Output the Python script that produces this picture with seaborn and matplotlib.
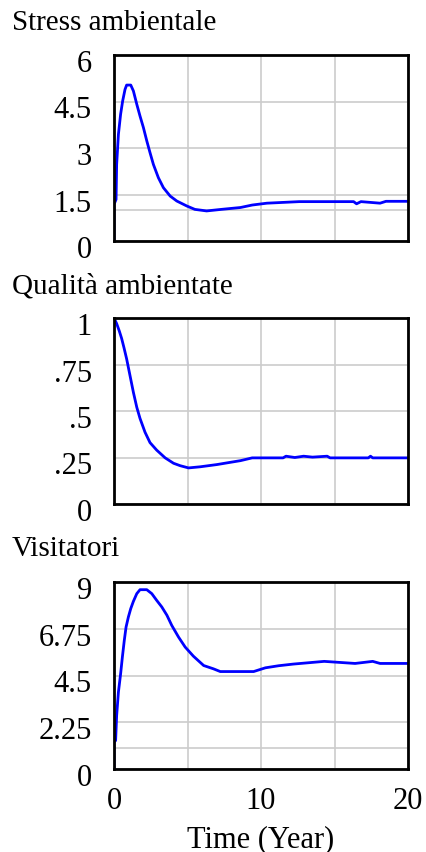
import numpy as np
import pandas as pd
import matplotlib
matplotlib.use("Agg")
import matplotlib.pyplot as plt
import matplotlib.transforms as mtransforms
import seaborn as sns

# ================================
# DATA
# ================================

stress_t = [0, 0, 0.14, 0.18, 0.3, 0.45, 0.59, 0.75, 0.86, 1.14, 1.32, 1.55, 1.77, 2.0,
            2.23, 2.45, 2.68, 3.02, 3.36, 3.82, 4.27, 4.95, 5.5, 6.3, 7.3, 8.6, 9.4,
            10.4, 12.6, 16.3, 16.5, 16.8, 18.1, 18.5, 20]
stress_v = [0, 1.18, 1.34, 2.47, 3.44, 4.09, 4.52, 4.89, 5.03, 5.03, 4.84, 4.41, 4.03, 3.66,
            3.23, 2.85, 2.47, 2.04, 1.72, 1.45, 1.29, 1.13, 1.02, 0.97, 1.02, 1.08, 1.16,
            1.22, 1.27, 1.27, 1.2, 1.27, 1.22, 1.28, 1.28]

qual_t = [0, 0.18, 0.36, 0.52, 0.68, 0.86, 1.09, 1.32, 1.55, 1.77, 2.11, 2.45, 2.9,
          3.48, 4.05, 4.5, 5.07, 5.86, 7.0, 7.68, 8.6, 9.4, 11.5, 11.7, 12.3, 12.9,
          13.5, 14.5, 14.7, 17.3, 17.45, 17.6, 20]
qual_v = [1.0, 0.97, 0.93, 0.89, 0.84, 0.78, 0.69, 0.60, 0.52, 0.46, 0.386, 0.33, 0.29,
          0.248, 0.219, 0.206, 0.194, 0.2, 0.212, 0.221, 0.233, 0.248, 0.248, 0.257, 0.25,
          0.257, 0.252, 0.257, 0.248, 0.248, 0.257, 0.248, 0.248]

vis_t = [0, 0, 0.11, 0.18, 0.3, 0.45, 0.57, 0.7, 0.82, 0.98, 1.14, 1.32, 1.55, 1.77,
         2.23, 2.57, 2.9, 3.25, 3.6, 3.93, 4.39, 4.84, 5.4, 6.1, 6.77, 7.23, 9.5, 10.3,
         11.2, 12.2, 14.3, 16.4, 17.6, 18.1, 20]
vis_v = [0, 1.29, 1.37, 2.57, 3.7, 4.58, 5.39, 6.19, 6.83, 7.32, 7.72, 8.07, 8.44, 8.63,
         8.63, 8.44, 8.12, 7.8, 7.4, 6.91, 6.35, 5.87, 5.43, 4.98, 4.82, 4.69, 4.69, 4.87,
         4.97, 5.05, 5.18, 5.08, 5.18, 5.08, 5.08]

titles = ["Stress ambientale", "Qualità ambientate", "Visitatori"]
y_ticks = [[0, 1.5, 3, 4.5, 6], [0, 0.25, 0.5, 0.75, 1], [0, 2.25, 4.5, 6.75, 9]]
y_labels = [["0", "1.5", "3", "4.5", "6"], ["0", ".25", ".5", ".75", "1"],
            ["0", "2.25", "4.5", "6.75", "9"]]
extra_grid = [[1.0], [], [1.0]]
x_ticks = [0, 5, 10, 15, 20]
x_labels = ["0", "", "10", "", "20"]

# ================================
# PLOT
# ================================

sns.set_style("white")
plt.rcParams['font.family'] = ['Liberation Serif', 'DejaVu Serif']
plt.rcParams['text.color'] = 'black'
plt.rcParams['xtick.color'] = 'black'
plt.rcParams['ytick.color'] = 'black'
plt.rcParams['axes.labelcolor'] = 'black'

fig = plt.figure(figsize=(4.26, 8.53), dpi=100)
W, H = 426, 853
panels = [(56, 242), (319, 505), (583, 770)]
title_y = [30, 293, 556]
series = [(stress_t, stress_v), (qual_t, qual_v), (vis_t, vis_v)]

# vensim puts y labels slightly below the gridline
shift = mtransforms.ScaledTranslation(0, -5 / 100, fig.dpi_scale_trans)

for i, ((top, bot), (t, v)) in enumerate(zip(panels, series)):
    ax = fig.add_axes([114 / W, 1 - bot / H, (408 - 114) / W, (bot - top) / H])
    df = pd.DataFrame({"t": t, "v": v})
    sns.lineplot(data=df, x="t", y="v", ax=ax, color="#0000ff", lw=2,
                 sort=False, estimator=None)
    ax.set_xlim(0, 20)
    ax.set_ylim(y_ticks[i][0], y_ticks[i][-1])
    ax.set_xticks(x_ticks)
    ax.set_yticks(y_ticks[i])
    ax.set_yticklabels(y_labels[i])
    if i == 2:
        ax.set_xticklabels(x_labels)
        ax.set_xlabel("Time (Year)", fontsize=22, labelpad=7)
    else:
        ax.set_xticklabels([])
        ax.set_xlabel("")
    ax.set_ylabel("")
    ax.grid(True, color="#cccccc", lw=1.2)
    for g in extra_grid[i]:
        ax.axhline(g, color="#cccccc", lw=1.2, zorder=0)
    ax.set_axisbelow(True)
    ax.tick_params(length=0, labelsize=22)
    ax.tick_params(axis="y", pad=16)
    ax.tick_params(axis="x", pad=12)
    for lab in ax.get_yticklabels():
        lab.set_transform(lab.get_transform() + shift)
    for s in ax.spines.values():
        s.set_color("black")
        s.set_linewidth(2)
    fig.text(12 / W, 1 - title_y[i] / H, titles[i], fontsize=21, va="baseline", ha="left")

plt.savefig("out.png", dpi=100)
